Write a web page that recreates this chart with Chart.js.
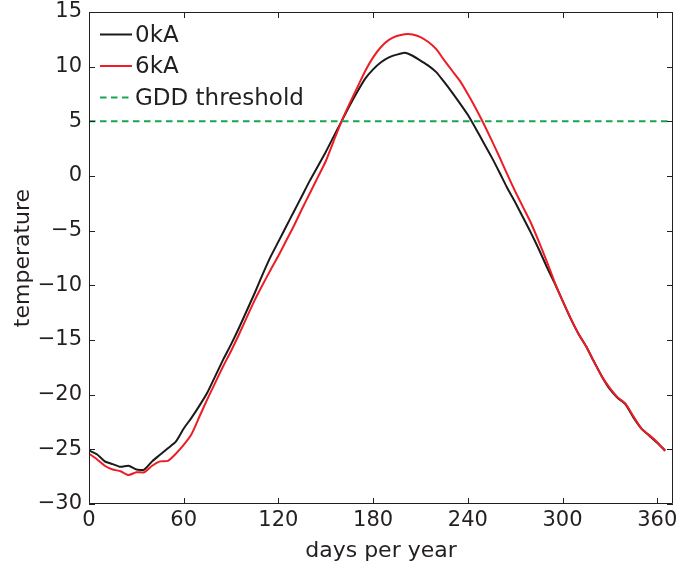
<!DOCTYPE html>
<html>
<head>
<meta charset="utf-8">
<script src="https://cdn.jsdelivr.net/npm/chart.js@4.4.1/dist/chart.umd.min.js"></script>
<style>
  html, body { margin: 0; padding: 0; background: #fff; }
  #wrap { width: 682px; height: 566px; }
</style>
</head>
<body>
<div id="wrap"><canvas id="chart" width="682" height="566"></canvas></div>
<script>
// day of year
const days = [0, 5, 10, 15, 20, 25, 30, 35, 40, 45, 50, 55, 60, 65, 70, 75, 80, 85, 90, 95,
    100, 105, 110, 115, 120, 125, 130, 135, 140, 145, 150, 155, 160, 165, 170, 175, 180, 185, 190, 195,
    200, 205, 210, 215, 220, 225, 230, 235, 240, 245, 250, 255, 260, 265, 270, 275, 280, 285, 290, 295,
    300, 305, 310, 315, 320, 325, 330, 335, 340, 345, 350, 355, 360, 365];

// temperature 0kA
const temp0kA = [-25.1, -25.45, -26.1, -26.35, -26.6, -26.5, -26.85, -26.85, -26.1, -25.5,
    -24.9, -24.3, -23.1, -22.1, -21.0, -19.8, -18.3, -16.8, -15.4, -13.9,
    -12.3, -10.7, -9.0, -7.4, -6.0, -4.6, -3.2, -1.8, -0.4, 0.9,
    2.2, 3.6, 5.0, 6.4, 7.7, 8.9, 9.75, 10.4, 10.85, 11.1,
    11.28, 11.0, 10.55, 10.1, 9.5, 8.6, 7.65, 6.65, 5.6, 4.35,
    3.05, 1.75, 0.35, -1.1, -2.4, -3.8, -5.2, -6.7, -8.3, -9.8,
    -11.4, -13.0, -14.4, -15.6, -17.0, -18.35, -19.5, -20.3, -20.9, -22.1,
    -23.1, -23.75, -24.4, -25.1];

// temperature 6kA
const temp6kA = [-25.4, -25.9, -26.5, -26.85, -27.0, -27.35, -27.1, -27.1, -26.5, -26.1,
    -26.05, -25.4, -24.6, -23.6, -22.0, -20.4, -18.9, -17.4, -16.0, -14.5,
    -12.9, -11.35, -9.95, -8.6, -7.3, -5.9, -4.5, -3.0, -1.55, -0.1,
    1.35, 3.2, 5.0, 6.6, 8.1, 9.6, 10.85, 11.8, 12.45, 12.8,
    12.97, 12.95, 12.7, 12.25, 11.6, 10.6, 9.65, 8.7, 7.5, 6.2,
    4.8, 3.3, 1.76, 0.15, -1.4, -2.85, -4.3, -6.0, -7.8, -9.7,
    -11.4, -12.95, -14.4, -15.6, -17.0, -18.35, -19.4, -20.25, -20.85, -22.0,
    -23.1, -23.7, -24.35, -25.15];

const gddDays = [0, 370];
const gddValues = [5, 5];

const xTicks = [0, 60, 120, 180, 240, 300, 360];
const yTicks = [-30, -25, -20, -15, -10, -5, 0, 5, 10, 15];

const axisColor = '#231f20';
const fontFamily = '"DejaVu Sans", "Liberation Sans", sans-serif';

function toPoints(xs, ys) {
    return xs.map((x, i) => ({ x: x, y: ys[i] }));
}

// matlab-like box with inward ticks + legend in the upper left corner
const boxPlugin = {
    id: 'boxPlugin',
    afterDatasetsDraw(chart) {
        const ctx = chart.ctx;
        const area = chart.chartArea;
        const xs = chart.scales.x;
        const ys = chart.scales.y;
        const tl = 6;
        ctx.save();
        ctx.strokeStyle = axisColor;
        ctx.lineWidth = 1;
        ctx.beginPath();
        ctx.rect(area.left + 0.5, area.top + 0.5, area.right - area.left - 1, area.bottom - area.top - 1);
        xs.ticks.forEach(t => {
            const px = Math.round(xs.getPixelForValue(t.value)) + 0.5;
            ctx.moveTo(px, area.bottom);
            ctx.lineTo(px, area.bottom - tl);
            ctx.moveTo(px, area.top);
            ctx.lineTo(px, area.top + tl);
        });
        ys.ticks.forEach(t => {
            const py = Math.round(ys.getPixelForValue(t.value)) + 0.5;
            ctx.moveTo(area.left, py);
            ctx.lineTo(area.left + tl, py);
            ctx.moveTo(area.right, py);
            ctx.lineTo(area.right - tl, py);
        });
        ctx.stroke();

        // legend
        const order = [0, 1, 2];
        ctx.font = '23px ' + fontFamily;
        ctx.textBaseline = 'middle';
        ctx.textAlign = 'left';
        order.forEach((idx, row) => {
            const ds = chart.data.datasets[idx];
            const y = area.top + 22.5 + row * 31.5;
            ctx.beginPath();
            ctx.strokeStyle = ds.borderColor;
            ctx.lineWidth = ds.borderWidth;
            ctx.setLineDash(ds.borderDash || []);
            ctx.moveTo(100, y);
            ctx.lineTo(132, y);
            ctx.stroke();
            ctx.setLineDash([]);
            ctx.fillStyle = axisColor;
            ctx.fillText(ds.label, 135, y + 1.5);
        });
        ctx.restore();
    }
};

const ctx = document.getElementById('chart').getContext('2d');
new Chart(ctx, {
    type: 'line',
    data: {
        datasets: [
            {
                label: '0kA',
                data: toPoints(days, temp0kA),
                borderColor: '#1a1a1a',
                borderWidth: 2,
                pointRadius: 0,
                tension: 0.2,
                order: 2
            },
            {
                label: '6kA',
                data: toPoints(days, temp6kA),
                borderColor: '#ee1c25',
                borderWidth: 2,
                pointRadius: 0,
                tension: 0.2,
                order: 1
            },
            {
                label: 'GDD threshold',
                data: toPoints(gddDays, gddValues),
                borderColor: '#16a650',
                borderWidth: 2,
                borderDash: [6.5, 4.5],
                pointRadius: 0,
                order: 0
            }
        ]
    },
    options: {
        responsive: false,
        animation: false,
        devicePixelRatio: 1,
        layout: { padding: { top: 12, right: 9, left: 0, bottom: 0 } },
        plugins: {
            legend: { display: false },
            tooltip: { enabled: false }
        },
        scales: {
            x: {
                type: 'linear',
                min: 0,
                max: 370,
                afterBuildTicks: scale => { scale.ticks = xTicks.map(v => ({ value: v })); },
                afterFit: scale => {
                    scale.height = 62;
                    scale.paddingLeft = 0;
                    scale.paddingRight = 0;
                },
                grid: { display: false, drawTicks: false },
                border: { display: false },
                ticks: {
                    padding: 4,
                    color: axisColor,
                    font: { family: fontFamily, size: 21 },
                    maxRotation: 0,
                    autoSkip: false
                },
                title: {
                    display: true,
                    text: 'days per year',
                    color: axisColor,
                    font: { family: fontFamily, size: 22 },
                    padding: { top: 0, bottom: 2 }
                }
            },
            y: {
                min: -30,
                max: 15,
                afterBuildTicks: scale => { scale.ticks = yTicks.map(v => ({ value: v })); },
                afterFit: scale => {
                    scale.width = 89;
                    scale.paddingTop = 0;
                    scale.paddingBottom = 0;
                },
                grid: { display: false, drawTicks: false },
                border: { display: false },
                ticks: {
                    padding: 7,
                    color: axisColor,
                    font: { family: fontFamily, size: 21 },
                    autoSkip: false,
                    callback: v => String(v).replace('-', '\u2212')
                },
                title: {
                    display: true,
                    text: 'temperature',
                    color: axisColor,
                    font: { family: fontFamily, size: 22 },
                    padding: { top: 10, bottom: 0 }
                }
            }
        }
    },
    plugins: [boxPlugin]
});
</script>
</body>
</html>
